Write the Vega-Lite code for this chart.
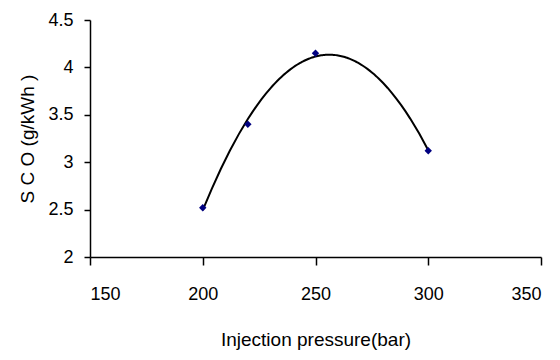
{
  "$schema": "https://vega.github.io/schema/vega-lite/v6.json",
  "autosize": "none",
  "width": 451,
  "height": 237,
  "padding": {"left": 90, "top": 20, "right": 19, "bottom": 103},
  "background": "white",
  "config": {
    "view": {"stroke": null},
    "axis": {
      "grid": false,
      "domainColor": "black",
      "tickColor": "black",
      "labelColor": "black",
      "titleColor": "black",
      "labelFont": "Liberation Sans",
      "titleFont": "Liberation Sans",
      "titleFontWeight": "normal",
      "domainWidth": 1.5,
      "tickWidth": 1.5
    }
  },
  "data": {
    "values": [
      {"p": 200, "sco": 2.52},
      {"p": 220, "sco": 3.4},
      {"p": 250, "sco": 4.15},
      {"p": 300, "sco": 3.12}
    ]
  },
  "layer": [
    {
      "transform": [
        {"regression": "sco", "on": "p", "method": "poly", "order": 2, "extent": [200, 300]}
      ],
      "mark": {"type": "line", "color": "black", "strokeWidth": 2},
      "encoding": {
        "x": {"field": "p", "type": "quantitative"},
        "y": {"field": "sco", "type": "quantitative"}
      }
    },
    {
      "mark": {"type": "point", "shape": "diamond", "filled": true, "color": "#000080", "size": 55, "opacity": 1},
      "encoding": {
        "x": {
          "field": "p",
          "type": "quantitative",
          "scale": {"domain": [150, 350], "nice": false},
          "axis": {
            "values": [150, 200, 250, 300, 350],
            "title": "Injection pressure(bar)",
            "tickSize": 8,
            "labelPadding": 20,
            "labelFontSize": 18,
            "titleFontSize": 19,
            "titlePadding": 27
          }
        },
        "y": {
          "field": "sco",
          "type": "quantitative",
          "scale": {"domain": [2, 4.5], "nice": false, "zero": false},
          "axis": {
            "values": [2, 2.5, 3, 3.5, 4, 4.5],
            "format": "~g",
            "title": "S C O (g/kWh )",
            "tickSize": 6,
            "labelPadding": 11,
            "labelFontSize": 18,
            "titleFontSize": 19,
            "titlePadding": 10
          }
        }
      }
    }
  ]
}
